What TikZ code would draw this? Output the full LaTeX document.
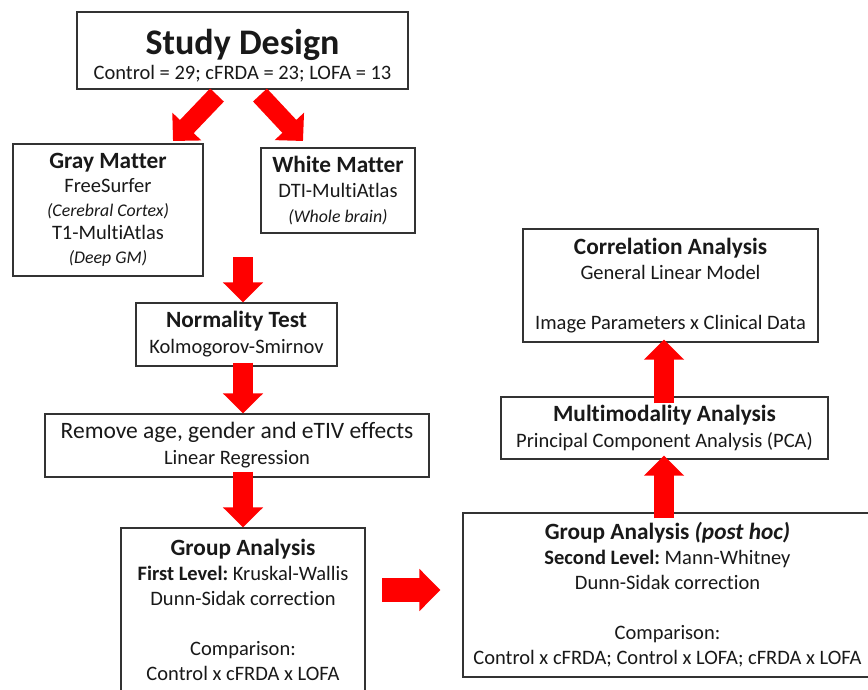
\documentclass[tikz,border=0pt]{standalone}
\usepackage{fontspec}
\setmainfont[Ligatures={NoCommon},RawFeature={-liga;-clig}]{Carlito}
\frenchspacing
\usetikzlibrary{arrows.meta}
\tikzset{
  box/.style={draw=black!80, line width=1.2pt, rectangle, align=center, inner sep=0pt,
    font=\fontsize{20.5}{25}\selectfont, text=black!90},
  fat/.style={draw=red, line width=20pt, -{Triangle[width=39pt,length=20pt]}},
}
\newcommand{\ttl}[1]{{\fontsize{23.3}{25}\selectfont\bfseries #1}}
\newcommand{\sml}[1]{{\fontsize{17.8}{25}\selectfont\itshape #1}}
\begin{document}
\begin{tikzpicture}[x=1pt,y=-1pt]
\useasboundingbox (0,0) rectangle (868,689);
\fill[white] (0,0) rectangle (868,689);
\begin{scope}
\clip (0,0) rectangle (868,689);
\node[box, minimum width=331pt, minimum height=77pt, font=\fontsize{20.5}{30}\selectfont] (sd) at (242.5,50.5)
  {\rule{0pt}{35pt}{\fontsize{36}{30}\selectfont\bfseries Study Design}\\[-5pt] Control = 29; cFRDA = 23; LOFA = 13};
\node[box, minimum width=190pt, minimum height=132pt, font=\fontsize{20.5}{23.7}\selectfont] (gm) at (108,210)
  {\ttl{Gray Matter}\\ FreeSurfer\\ \sml{(Cerebral Cortex)}\\ T1-MultiAtlas\\ \sml{(Deep GM)}};
\node[box, minimum width=154pt, minimum height=85pt] (wm) at (338,190.5)
  {\ttl{White Matter}\\ DTI-MultiAtlas\\ \sml{(Whole brain)}};
\node[box, minimum width=201pt, minimum height=63pt, font=\fontsize{20.5}{26}\selectfont] (nt) at (236.5,334.5)
  {\ttl{Normality Test}\\ Kolmogorov-Smirnov};
\node[box, minimum width=384pt, minimum height=63pt, font=\fontsize{20.5}{26}\selectfont] (rm) at (237,445.5)
  {{\fontsize{23.5}{26}\selectfont Remove age, gender and eTIV effects}\\ Linear Regression};
\node[box, minimum width=244pt, minimum height=164pt] (ga) at (243,610)
  {\ttl{Group Analysis}\\ \textbf{First Level:} Kruskal-Wallis\\ Dunn-Sidak correction\\[25pt] Comparison:\\ Control x cFRDA x LOFA};
\node[box, minimum width=295pt, minimum height=113pt] (ca) at (670.5,285.5)
  {\ttl{Correlation Analysis}\\ General Linear Model\\[25pt] Image Parameters x Clinical Data};
\node[box, minimum width=327pt, minimum height=62pt, font=\fontsize{20.5}{26}\selectfont] (ma) at (664.5,428)
  {\ttl{Multimodality Analysis}\\ Principal Component Analysis (PCA)};
\node[box, minimum width=409pt, minimum height=164pt] (ph) at (667.5,595)
  {\ttl{Group Analysis \textit{(post hoc)}}\\ \textbf{Second Level:} Mann-Whitney\\ Dunn-Sidak correction\\[25pt] Comparison:\\ Control x cFRDA; Control x LOFA; cFRDA x LOFA};
\end{scope}
% connectors
\coordinate (d1) at (217,95);
\coordinate (d2) at (260,95);
\coordinate (t1) at (173,141);
\coordinate (t2) at (303,141);
\draw[fat, line width=19pt] (d1) -- (t1);
\draw[fat, line width=19pt] (d2) -- (t2);
\coordinate (a1) at (243,257);
\draw[fat] (a1) -- (a1 |- nt.north);
\draw[fat] ([yshift=4pt]a1 |- nt.south) -- (a1 |- rm.north);
\draw[fat] ([yshift=6pt]a1 |- rm.south) -- (a1 |- ga.north);
\coordinate (r1) at (382,590);
\draw[fat, line width=24pt, -{Triangle[width=41pt,length=21pt]}] (r1) -- ([xshift=-22pt]ph.west |- r1);
\draw[fat] ([yshift=-6pt]ph.north -| 664,0) -- ([yshift=4pt]ma.south -| 664,0);
\draw[fat] ([yshift=-7pt]ma.north -| 664,0) -- ([yshift=3pt]ca.south -| 664,0);
\end{tikzpicture}
\end{document}
